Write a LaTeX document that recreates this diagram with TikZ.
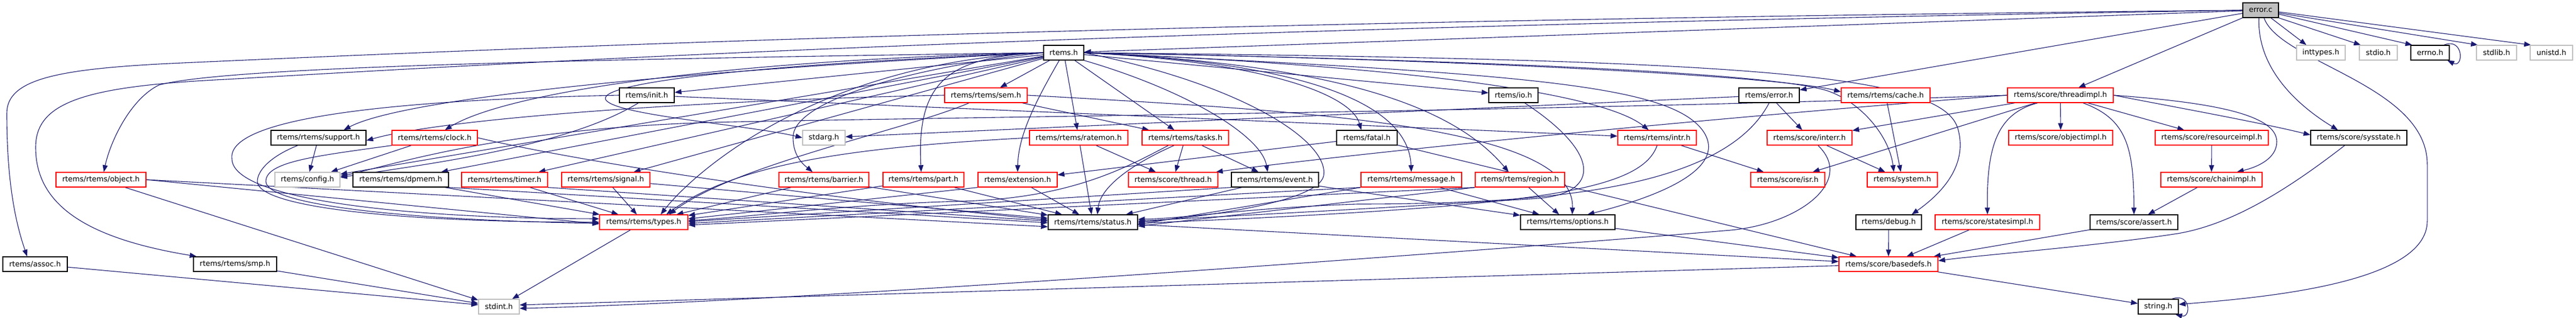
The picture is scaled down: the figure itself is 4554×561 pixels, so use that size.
\documentclass[tikz,border=0pt]{standalone}
\usepackage{fontspec}
\setmainfont{DejaVu Sans}
\usetikzlibrary{arrows.meta,backgrounds}
\definecolor{edgec}{HTML}{191970}
\definecolor{grey75}{HTML}{BFBFBF}
\newcommand{\nb}[5]{\node[#1, minimum width=#5pt] (#2) at (#3) {#4};}
\begin{document}
\begin{tikzpicture}[x=1pt,y=-1pt,
  box/.style={draw, line width=1.3pt, fill=white, minimum height=26pt, inner sep=0pt, font=\fontsize{13}{15}\selectfont, text=black},
  bk/.style={box, draw=black},
  rd/.style={box, draw=red},
  gy/.style={box, draw=grey75},
  ed/.style={draw=edgec, line width=1.1pt, -{Triangle[length=12pt,width=9pt]}}]
\useasboundingbox (0,0) rectangle (4554,561);
% row 0
\node[box, draw=black, fill=grey75, minimum width=63pt] (errorc) at (3996.5,18) {error.c};
% row 1
\nb{bk}{rtemsh}{1880.5,93}{rtems.h}{71}
\nb{gy}{inttypes}{4103,93}{inttypes.h}{86}
\nb{gy}{stdio}{4204.5,93}{stdio.h}{67}
\nb{bk}{errno}{4296,93}{errno.h}{68}
\nb{gy}{stdlib}{4413.5,93}{stdlib.h}{71}
\nb{gy}{unistd}{4510.5,93}{unistd.h}{75}
% row 2
\nb{bk}{init}{1143.5,168}{rtems/init.h}{97}
\nb{rd}{sem}{1743,168}{rtems/rtems/sem.h}{146}
\nb{bk}{io}{2675.5,168}{rtems/io.h}{87}
\nb{bk}{errorh}{3127.5,168}{rtems/error.h}{107}
\nb{rd}{cache}{3333.5,168}{rtems/rtems/cache.h}{157}
\nb{rd}{threadimpl}{3642.5,168}{rtems/score/threadimpl.h}{187}
% row 3
\nb{bk}{support}{563,243}{rtems/rtems/support.h}{168}
\nb{rd}{clock}{768.5,243}{rtems/rtems/clock.h}{151}
\nb{gy}{stdarg}{1456.5,243}{stdarg.h}{75}
\nb{rd}{ratemon}{1907,243}{rtems/rtems/ratemon.h}{174}
\nb{rd}{tasks}{2095.5,243}{rtems/rtems/tasks.h}{153}
\nb{bk}{fatal}{2416.5,243}{rtems/fatal.h}{107}
\nb{rd}{intr}{2929.5,243}{rtems/rtems/intr.h}{139}
\nb{rd}{interr}{3199,243}{rtems/score/interr.h}{150}
\nb{rd}{objectimpl}{3643,243}{rtems/score/objectimpl.h}{184}
\nb{rd}{resourceimpl}{3910,243}{rtems/score/resourceimpl.h}{200}
\nb{bk}{sysstate}{4170,243}{rtems/score/sysstate.h}{170}
% row 4
\nb{rd}{object}{178.5,317}{rtems/rtems/object.h}{159}
\nb{gy}{config}{543.5,317}{rtems/config.h}{115}
\nb{bk}{dpmem}{708.5,317}{rtems/rtems/dpmem.h}{169}
\nb{rd}{timer}{892,317}{rtems/rtems/timer.h}{152}
\nb{rd}{signal}{1071,317}{rtems/rtems/signal.h}{156}
\nb{rd}{barrier}{1456.5,317}{rtems/rtems/barrier.h}{159}
\nb{rd}{part}{1632.5,317}{rtems/rtems/part.h}{143}
\nb{rd}{extension}{1799,317}{rtems/extension.h}{140}
\nb{rd}{thread}{2074,317}{rtems/score/thread.h}{158}
\nb{bk}{event}{2254,317}{rtems/rtems/event.h}{154}
\nb{rd}{message}{2495,317}{rtems/rtems/message.h}{178}
\nb{rd}{region}{2687,317}{rtems/rtems/region.h}{158}
\nb{rd}{isr}{3160.5,317}{rtems/score/isr.h}{131}
\nb{rd}{system}{3363,317}{rtems/system.h}{124}
\nb{rd}{chainimpl}{3909.5,317}{rtems/score/chainimpl.h}{179}
% row 5
\nb{rd}{types}{1138,392}{rtems/rtems/types.h}{156}
\nb{bk}{status}{1932,392}{rtems/rtems/status.h}{158}
\nb{bk}{options}{2771.5,392}{rtems/rtems/options.h}{167}
\nb{bk}{debug}{3339,392}{rtems/debug.h}{116}
\nb{rd}{statesimpl}{3513.5,392}{rtems/score/statesimpl.h}{185}
\nb{bk}{assert}{3772.5,392}{rtems/score/assert.h}{155}
% row 6
\nb{bk}{assoc}{62,466}{rtems/assoc.h}{114}
\nb{bk}{smp}{415.5,466}{rtems/rtems/smp.h}{147}
\nb{rd}{basedefs}{3338.5,466}{rtems/score/basedefs.h}{175}
% row 7
\nb{gy}{stdint}{882,541}{stdint.h}{72}
\nb{bk}{string}{3815.5,541}{string.h}{71}

\begin{scope}[on background layer]
\fill[white] (0,0) rectangle (4554,561);
% ---- error.c
\draw[ed] (errorc) -- (rtemsh);
\draw[ed] (errorc.west) .. controls (2000,38) and (900,85) .. (300,112) .. controls (100,122) and (12,140) .. (12,200) .. controls (12,330) and (30,400) .. ([xshift=-14pt]assoc.north);
\draw[ed] (errorc.west) .. controls (2000,50) and (1000,105) .. (400,140) .. controls (150,152) and (63,180) .. (63,260) .. controls (63,360) and (150,420) .. ([xshift=-68pt]smp.north);
\draw[ed] (errorc) -- (errorh);
\draw[ed] (errorc) -- (threadimpl);
\draw[ed] ([xshift=-3pt]errorc.south) .. controls (3990,120) and (4060,185) .. ([xshift=-37pt]sysstate.north);
\draw[ed] ([xshift=6pt]errorc.south) .. controls (4030,110) and (4291,150) .. (4291,290) -- (4291,390) .. controls (4291,500) and (4000,525) .. ([yshift=4pt]string.east);
\draw[ed] ([xshift=-14pt]errorc.south east) -- ([xshift=18pt]inttypes.north west);
\draw[ed] (errorc.south east) -- ([xshift=3pt]stdio.north west);
\draw[ed] ([yshift=-7pt]errorc.east) -- ([xshift=3pt]errno.north west);
\draw[ed] ([yshift=-5pt]errorc.east) -- ([xshift=3pt]stdlib.north west);
\draw[ed] ([yshift=-3pt]errorc.east) -- ([xshift=2pt]unistd.north west);
\draw[ed] ([xshift=-10pt]errno.north east) .. controls ([xshift=25pt,yshift=14pt]errno.north east) and ([xshift=25pt,yshift=-14pt]errno.south east) .. ([xshift=-4pt]errno.south east);
\draw[ed] ([xshift=-12pt]string.north east) .. controls ([xshift=22pt,yshift=12pt]string.north east) and ([xshift=22pt,yshift=-7pt]string.south east) .. ([xshift=-6pt]string.south east);
% ---- rtems.h
\draw[ed] (rtemsh.west) .. controls (1450,110) and (1230,300) .. ([xshift=30pt]types.north);
\draw[ed] (rtemsh) -- (config);
\draw[ed] (rtemsh.east) .. controls (3100,105) and (3440,130) .. (3462,230) .. controls (3480,300) and (3420,350) .. ([xshift=-18pt]debug.north east);
\draw[ed] (rtemsh) -- (init);
\draw[ed] (rtemsh) -- (tasks);
\draw[ed] (rtemsh.east) .. controls (2550,120) and (2840,170) .. ([xshift=-15pt]intr.north);
\draw[ed] (rtemsh.west) .. controls (1600,120) and (1400,180) .. (1402,243) .. controls (1402,275) and (1420,290) .. ([xshift=-20pt]barrier.north);
\draw[ed] (rtemsh.east) .. controls (2600,105) and (3150,135) .. ([yshift=6pt]cache.west);
\draw[ed] (rtemsh.west) .. controls (1300,105) and (900,160) .. ([xshift=18pt]clock.north);
\draw[ed] ([xshift=-8pt]rtemsh.south) .. controls (1830,180) and (1800,240) .. (extension.north);
\draw[ed] (rtemsh) -- (timer);
\draw[ed] (rtemsh) -- (sem);
\draw[ed] (rtemsh.east) .. controls (2300,110) and (2490,180) .. (message.north);
\draw[ed] (rtemsh.south east) .. controls (2100,160) and (2230,240) .. ([xshift=-13pt]event.north);
\draw[ed] (rtemsh) -- (signal);
\draw[ed] (rtemsh.west) .. controls (1680,100) and (1620,140) .. ([xshift=-4pt]part.north);
\draw[ed] (rtemsh.east) .. controls (2400,115) and (2580,200) .. ([xshift=-20pt]region.north);
\draw[ed] (rtemsh.west) .. controls (1100,130) and (700,180) .. ([xshift=-40pt]support.north east);
\draw[ed] (rtemsh) -- (dpmem);
\draw[ed] (rtemsh) -- (io);
\draw[ed] (rtemsh.east) .. controls (2250,110) and (2390,170) .. ([xshift=-10pt]fatal.north);
\draw[ed] (rtemsh) -- (ratemon);
\draw[ed] (rtemsh.west) .. controls (1000,105) and (400,118) .. (281,150) .. controls (230,175) and (195,250) .. ([xshift=5pt]object.north);
\draw[ed] (rtemsh.east) .. controls (2200,150) and (2350,250) .. (2340,310) .. controls (2330,360) and (2100,385) .. (status.east);
\draw[ed] (rtemsh.east) .. controls (2700,130) and (2950,150) .. (3010,230) .. controls (3060,300) and (2920,350) .. ([xshift=35pt]options.north);
\draw[ed] (rtemsh.east) .. controls (2800,110) and (3150,135) .. (3230,160) .. controls (3290,180) and (3340,240) .. ([xshift=-15pt]system.north);
\draw[ed] (rtemsh.west) .. controls (1300,115) and (1030,150) .. (1075,180) .. controls (1110,205) and (1330,222) .. (stdarg.west);
% ---- init
\draw[ed] (init.west) .. controls (760,175) and (400,200) .. (410,280) .. controls (410,350) and (700,385) .. ([yshift=6pt]types.west);
\draw[ed] ([xshift=-15pt]init.south) .. controls (1000,260) and (750,290) .. ([yshift=4pt]config.east);
\draw[ed] (init) -- (intr);
% ---- sem
\draw[ed] (sem.west) .. controls (1300,175) and (800,205) .. ([yshift=-5pt]support.east);
\draw[ed] ([xshift=-30pt]sem.south) .. controls (1600,230) and (1300,290) .. ([xshift=45pt]types.north);
\draw[ed] (sem) -- (tasks);
\draw[ed] (sem.east) .. controls (2300,195) and (2785,220) .. ([xshift=8pt]options.north);
% ---- ratemon, tasks
\draw[ed] (ratemon.west) .. controls (1500,260) and (1300,290) .. ([xshift=40pt]types.north);
\draw[ed] (ratemon) -- (status);
\draw[ed] (ratemon) -- (thread);
\draw[ed] ([xshift=-30pt]tasks.south) .. controls (2000,290) and (1900,350) .. (1700,355) .. controls (1500,360) and (1300,385) .. ([yshift=3pt]types.east);
\draw[ed] ([xshift=-20pt]tasks.south) .. controls (2000,290) and (1945,330) .. ([xshift=8pt]status.north);
\draw[ed] (tasks) -- (thread);
\draw[ed] (tasks) -- (event);
% ---- clock, support
\draw[ed] (clock) -- (config);
\draw[ed] (clock.south west) .. controls (560,275) and (470,285) .. (470,320) .. controls (470,360) and (700,388) .. ([yshift=-2pt]types.west);
\draw[ed] (clock.east) .. controls (1000,280) and (1400,345) .. ([yshift=4pt]status.west);
\draw[ed] (support) -- (config);
\draw[ed] ([xshift=48pt]support.south west) .. controls (480,275) and (455,300) .. (455,320) .. controls (455,365) and (700,392) .. (types.west);
% ---- row 4 to types / status
\draw[ed] (timer) -- (types);
\draw[ed] (timer.south east) -- ([yshift=2pt]status.west);
\draw[ed] (signal) -- (types);
\draw[ed] (signal) -- (status);
\draw[ed] (dpmem) -- (types);
\draw[ed] (dpmem.south east) -- ([yshift=-1pt]status.west);
\draw[ed] (barrier) -- (types);
\draw[ed] (barrier) -- (status);
\draw[ed] (part) -- (types);
\draw[ed] (part) -- (status);
\draw[ed] (extension.south west) -- ([yshift=6pt]types.east);
\draw[ed] (extension) -- (status);
\draw[ed] (object.east) -- ([yshift=-3pt]types.west);
\draw[ed] (object.east) -- ([yshift=-8pt]status.west);
\draw[ed] (object) -- (stdint);
\draw[ed] (event.south west) -- ([yshift=1pt]types.east);
\draw[ed] (event) -- (status);
\draw[ed] (event) -- (options);
\draw[ed] (message.south west) -- ([yshift=-2pt]types.east);
\draw[ed] (message.south west) -- ([yshift=-4pt]status.east);
\draw[ed] (message) -- (options);
\draw[ed] (region.south west) -- ([yshift=-5pt]types.east);
\draw[ed] (region.south west) -- ([yshift=-7pt]status.east);
\draw[ed] (region) -- (options);
% ---- fatal, io, intr, error.h, cache
\draw[ed] (fatal) -- (extension);
\draw[ed] (fatal) -- (basedefs);
\draw[ed] ([xshift=20pt]io.south) .. controls (2830,270) and (2830,340) .. (2720,350) .. controls (2400,370) and (2100,385) .. ([yshift=2pt]status.east);
\draw[ed] (intr) -- (isr);
\draw[ed] (intr.south) .. controls (2900,340) and (2700,365) .. ([yshift=-2pt]status.east);
\draw[ed] (errorh) -- (stdarg);
\draw[ed] (errorh) -- (interr);
\draw[ed] (errorh.south) .. controls (3050,330) and (2750,360) .. (2400,360) .. controls (2200,367) and (2100,385) .. ([yshift=5pt]status.east);
\draw[ed] (cache) -- (system);
% ---- threadimpl
\draw[ed] (threadimpl.west) .. controls (2800,195) and (1800,205) .. (1300,215) .. controls (900,222) and (700,290) .. ([yshift=6pt]config.east);
\draw[ed] (threadimpl.west) .. controls (3000,210) and (2400,270) .. ([xshift=-4pt]thread.north east);
\draw[ed] (threadimpl) -- (interr);
\draw[ed] (threadimpl) -- (isr);
\draw[ed] (threadimpl) -- (objectimpl);
\draw[ed] ([xshift=-40pt]threadimpl.south) .. controls (3530,200) and (3512,260) .. (statesimpl.north);
\draw[ed] ([xshift=40pt]threadimpl.south) .. controls (3760,210) and (3772,260) .. (assert.north);
\draw[ed] (threadimpl) -- (resourceimpl);
\draw[ed] (threadimpl.east) .. controls (3850,190) and (3990,215) .. ([yshift=5pt]sysstate.west);
\draw[ed] (threadimpl.east) .. controls (3900,180) and (4025,200) .. (4025,250) .. controls (4025,280) and (3990,295) .. ([xshift=45pt]chainimpl.north);
% ---- score
\draw[ed] (resourceimpl) -- (chainimpl);
\draw[ed] (chainimpl) -- (assert);
\draw[ed] (interr) -- (system);
\draw[ed] ([xshift=15pt]interr.south) .. controls (3280,320) and (3180,395) .. (3060,406) .. controls (2900,420) and (1500,530) .. ([yshift=-3pt]stdint.east);
\draw[ed] ([xshift=-25pt]sysstate.south) .. controls (4050,330) and (3950,395) .. (3850,412) .. controls (3700,435) and (3500,450) .. ([yshift=6pt]basedefs.east);
\draw[ed] (assert) -- (basedefs);
\draw[ed] (statesimpl) -- (basedefs);
\draw[ed] (debug) -- (basedefs);
\draw[ed] (status) -- (basedefs);
\draw[ed] (options) -- (basedefs);
\draw[ed] (basedefs) -- ([yshift=3pt]stdint.east);
\draw[ed] (basedefs) -- (string);
\draw[ed] (types) -- (stdint);
\draw[ed] (assoc) -- (stdint);
\draw[ed] (smp) -- (stdint);
\end{scope}
\end{tikzpicture}
\end{document}
